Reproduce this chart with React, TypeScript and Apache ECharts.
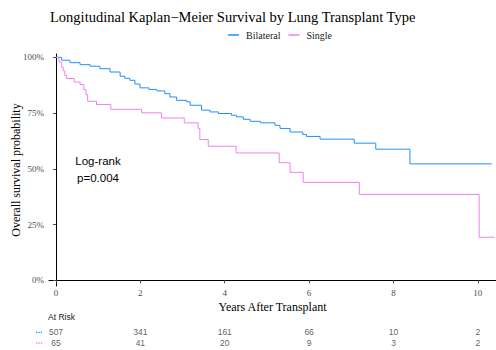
import React, { useEffect, useRef } from "react";
import * as echarts from "echarts";

const TITLE = "Longitudinal Kaplan\u2212Meier Survival by Lung Transplant Type";
const groups = ["Bilateral", "Single"];
const colors = ["#1E90FF", "#EE82EE"];

const bilateralTimes = [0, 0.135, 0.33, 0.57, 0.81, 1.04, 1.28, 1.52, 1.63, 1.75, 1.87, 1.99, 2.2, 2.39, 2.58, 2.7, 2.86, 3.1, 3.18, 3.45, 3.65, 3.85, 4.16, 4.28, 4.44, 4.6, 4.85, 5.19, 5.31, 5.55, 5.85, 5.94, 6.26, 7.07, 7.58, 8.39, 10.33];
const bilateralSurv = [100, 98.7, 97.6, 96.7, 96.0, 94.9, 93.4, 91.5, 90.6, 89.7, 88.0, 86.3, 85.6, 84.9, 83.7, 82.2, 80.7, 80.0, 78.5, 76.3, 75.5, 74.8, 74.0, 73.3, 72.2, 71.3, 70.6, 69.5, 68.1, 66.5, 65.4, 64.5, 63.3, 61.5, 58.8, 52.2, 52.2];

const singleTimes = [0, 0.07, 0.135, 0.17, 0.21, 0.25, 0.43, 0.57, 0.66, 0.71, 0.75, 0.96, 1.3, 2.03, 2.5, 3.04, 3.37, 3.41, 3.61, 4.27, 5.29, 5.55, 5.86, 7.19, 10.03, 10.4];
const singleSurv = [100, 97.9, 95.6, 93.9, 91.9, 90.5, 88.9, 87.8, 85.5, 83.3, 80.3, 78.8, 76.7, 75.1, 72.8, 70.6, 68.1, 63.1, 60.1, 57.1, 52.7, 48.4, 43.9, 38.5, 19.3, 19.3];

const xTicks = [0, 2, 4, 6, 8, 10];
const yTicks = [0, 25, 50, 75, 100];
const riskTimes = [0, 2, 4, 6, 8, 10];
const bilateralRisk = [507, 341, 161, 66, 10, 2];
const singleRisk = [65, 41, 20, 9, 3, 2];

const SERIF = "Liberation Serif";
const SANS = "Liberation Sans";

export default function App() {
  const ref = useRef<HTMLDivElement>(null);
  useEffect(() => {
    if (!ref.current) return;
    const chart = echarts.init(ref.current, undefined, { renderer: "svg" });
    const xMin = -0.166;
    const xMax = 10.43;
    const riskRows = [bilateralRisk, singleRisk];
    chart.setOption({
      animation: false,
      backgroundColor: "#ffffff",
      title: {
        text: TITLE,
        left: 50,
        top: 9,
        padding: 0,
        textStyle: { fontFamily: SERIF, fontSize: 14.5, fontWeight: "normal", color: "#000" },
      },
      legend: {
        data: groups,
        top: 30,
        left: 228,
        padding: 0,
        itemGap: 8,
        itemWidth: 11,
        itemHeight: 1.5,
        icon: "rect",
        textStyle: { fontFamily: SERIF, fontSize: 10, color: "#1a1a1a", padding: [0, 0, 0, 2] },
      },
      grid: [
        { left: 49, right: 0, top: 54, bottom: 64, outerBoundsMode: "none", containLabel: false },
        { left: 49, right: 0, top: 326.6, height: 21.4, outerBoundsMode: "none", containLabel: false },
      ],
      xAxis: [
        {
          type: "value",
          min: xMin,
          max: xMax,
          gridIndex: 0,
          name: "Years After Transplant",
          nameLocation: "middle",
          nameGap: 14.5,
          nameMoveOverlap: false,
          nameTextStyle: { fontFamily: SERIF, fontSize: 12, color: "#000" },
          axisLine: { show: true, lineStyle: { color: "#000", width: 1 } },
          axisTick: { show: true, length: 3, customValues: xTicks, lineStyle: { color: "#4d4d4d" } },
          axisLabel: {
            customValues: xTicks,
            margin: 2,
            fontFamily: SERIF,
            fontSize: 9,
            color: "#4d4d4d",
          },
          splitLine: { show: false },
        },
        { type: "value", min: xMin, max: xMax, gridIndex: 1, show: false },
      ],
      yAxis: [
        {
          type: "value",
          min: -2.56,
          max: 101.48,
          gridIndex: 0,
          name: "Overall survival probability",
          nameLocation: "middle",
          nameGap: 27,
          nameMoveOverlap: false,
          nameTextStyle: { fontFamily: SERIF, fontSize: 12, color: "#000" },
          axisLine: { show: true, lineStyle: { color: "#000", width: 1 } },
          axisTick: { show: true, length: 3, customValues: yTicks, lineStyle: { color: "#4d4d4d" } },
          axisLabel: {
            customValues: yTicks,
            margin: 5,
            formatter: (v: number) => `${v}%`,
            fontFamily: SERIF,
            fontSize: 9,
            color: "#4d4d4d",
          },
          splitLine: { show: false },
        },
        { type: "category", data: groups, inverse: true, gridIndex: 1, show: false },
      ],
      series: [
        {
          name: groups[0],
          type: "line",
          step: "end",
          showSymbol: false,
          symbol: "none",
          xAxisIndex: 0,
          yAxisIndex: 0,
          lineStyle: { color: colors[0], width: 1 },
          itemStyle: { color: colors[0] },
          data: bilateralTimes.map((t, i) => [t, bilateralSurv[i]]),
        },
        {
          name: groups[1],
          type: "line",
          step: "end",
          showSymbol: false,
          symbol: "none",
          xAxisIndex: 0,
          yAxisIndex: 0,
          lineStyle: { color: colors[1], width: 1 },
          itemStyle: { color: colors[1] },
          data: singleTimes.map((t, i) => [t, singleSurv[i]]),
        },
        ...riskRows.map((row, gi) => ({
          name: "risk" + gi,
          type: "scatter",
          xAxisIndex: 1,
          yAxisIndex: 1,
          symbolSize: 0,
          silent: true,
          label: {
            show: true,
            position: "inside",
            formatter: (p: any) => String(p.data[2]),
            fontFamily: SANS,
            fontSize: 8.5,
            color: "#333",
          },
          data: riskTimes.map((t, i) => [t, groups[gi], row[i]]),
        })),
      ],
      graphic: [
        {
          type: "text",
          x: 98,
          y: 161,
          style: { text: "Log-rank", fontFamily: SANS, fontSize: 11.5, fill: "#000", align: "center", verticalAlign: "middle" },
        },
        {
          type: "text",
          x: 98,
          y: 178,
          style: { text: "p=0.004", fontFamily: SANS, fontSize: 11.5, fill: "#000", align: "center", verticalAlign: "middle" },
        },
        {
          type: "text",
          x: 48,
          y: 317,
          style: { text: "At Risk", fontFamily: SANS, fontSize: 8.5, fill: "#1a1a1a", verticalAlign: "middle" },
        },
        {
          type: "line",
          shape: { x1: 36, y1: 332.3, x2: 43, y2: 332.3 },
          style: { stroke: colors[0], lineWidth: 1.3, lineDash: [1.3, 1.1] },
        },
        {
          type: "line",
          shape: { x1: 36, y1: 343, x2: 43, y2: 343 },
          style: { stroke: colors[1], lineWidth: 1.3, lineDash: [1.3, 1.1] },
        },
      ],
    });
    return () => chart.dispose();
  }, []);
  return (
    <div
      ref={ref}
      style={{ position: "fixed", left: 0, top: 0, width: 496, height: 350, background: "#fff" }}
    />
  );
}
